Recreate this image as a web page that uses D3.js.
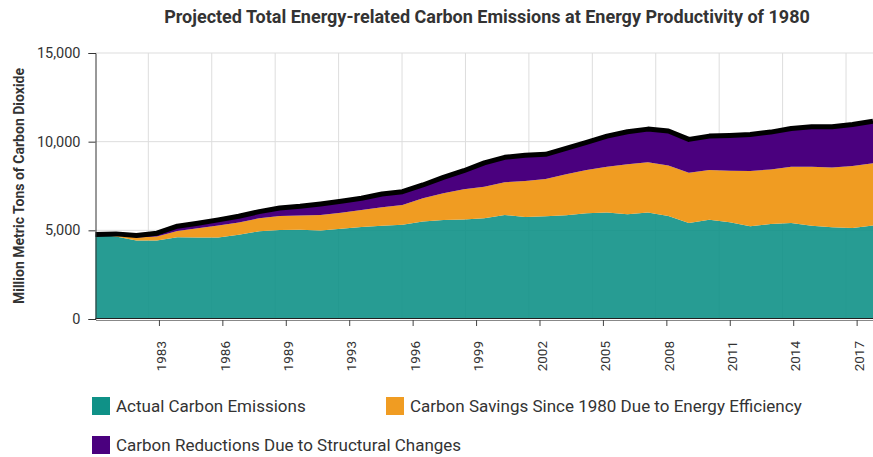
<!DOCTYPE html>
<html>
<head>
<meta charset="utf-8">
<script src="https://cdn.jsdelivr.net/npm/d3@7"></script>
<style>
body { margin: 0; background: #fff; }
text { font-family: Roboto, "Noto Sans", sans-serif; fill: #333; }
</style>
</head>
<body>
<div class="content"></div>
<script>
var size = {width: 873, height: 457};
var padding = {left: 95.5, right: 0, top: 53, bottom: 138};

// Data (million metric tons CO2)
var years = [1980, 1981, 1982, 1983, 1984, 1985, 1986, 1987, 1988, 1989,
             1990, 1991, 1992, 1993, 1994, 1995, 1996, 1997, 1998, 1999,
             2000, 2001, 2002, 2003, 2004, 2005, 2006, 2007, 2008, 2009,
             2010, 2011, 2012, 2013, 2014, 2015, 2016, 2017, 2018];
var actual = [4771, 4650, 4428, 4426, 4607, 4598, 4596, 4753, 4948, 5014,
              5039, 4996, 5088, 5185, 5259, 5314, 5502, 5579, 5617, 5682,
              5861, 5756, 5800, 5850, 5969, 5999, 5913, 6003, 5815, 5418,
              5594, 5456, 5235, 5361, 5414, 5262, 5170, 5131, 5268];
var savings = [0, 100, 170, 222, 362, 522, 671, 683, 735, 799,
               801, 873, 910, 965, 1043, 1117, 1304, 1511, 1698, 1780,
               1848, 2026, 2095, 2309, 2431, 2588, 2809, 2831, 2845, 2831,
               2806, 2906, 3108, 3076, 3173, 3325, 3380, 3494, 3510];
var structural = [0, 50, 110, 189, 263, 280, 321, 358, 372, 450,
                  520, 619, 640, 656, 748, 750, 751, 900, 1047, 1338,
                  1407, 1446, 1390, 1463, 1560, 1727, 1835, 1874, 1940, 1880,
                  1914, 1991, 2067, 2103, 2160, 2251, 2288, 2345, 2380];

var seriesKeys = ['actual', 'savings', 'structural'];
var seriesNames = ['Actual Carbon Emissions',
                   'Carbon Savings Since 1980 Due to Energy Efficiency',
                   'Carbon Reductions Due to Structural Changes'];
var colors = ['#0f9187', '#f09c22', '#4a007e'];

var tickYears = [1983.1, 1986.2, 1989.3, 1992.4, 1995.5, 1998.6, 2001.7, 2004.8, 2007.9, 2011.0, 2014.1, 2017.2];
var tickLabels = ['1983', '1986', '1989', '1993', '1996', '1999', '2002', '2005', '2008', '2011', '2014', '2017'];
var yTicks = [0, 5000, 10000, 15000];

var table = years.map(function(y, i) {
    return {year: y, actual: actual[i], savings: savings[i], structural: structural[i]};
});

var chart = d3.select('.content')
    .append('svg:svg')
    .attr('width', size.width)
    .attr('height', size.height);

var xScale = d3.scaleLinear()
    .domain([1980, 2018])
    .range([padding.left, size.width - padding.right]);
var yScale = d3.scaleLinear()
    .domain([0, 15000])
    .range([size.height - padding.bottom, padding.top]);

// Title and y label
chart.append('text')
    .attr('x', 487).attr('y', 23)
    .style('text-anchor', 'middle')
    .style('font-size', '18px').style('font-weight', 'bold')
    .text('Projected Total Energy-related Carbon Emissions at Energy Productivity of 1980');
chart.append('text')
    .attr('transform', 'translate(24,' + ((padding.top + yScale(0)) / 2) + ') rotate(-90)')
    .style('text-anchor', 'middle')
    .style('font-size', '14px').style('font-weight', 'bold')
    .text('Million Metric Tons of Carbon Dioxide');

// Gridlines (vertical ones sit a bit left of the ticks in the original)
var grid = chart.append('g').attr('class', 'grid');
grid.selectAll('line.h').data(yTicks.slice(1)).enter().append('line')
    .attr('x1', padding.left).attr('x2', size.width)
    .attr('y1', function(d) { return yScale(d); })
    .attr('y2', function(d) { return yScale(d); })
    .attr('stroke', '#ddd');
grid.selectAll('line.v').data(tickYears).enter().append('line')
    .attr('x1', function(d) { return xScale(d) - 10.6; })
    .attr('x2', function(d) { return xScale(d) - 10.6; })
    .attr('y1', yScale(15000)).attr('y2', yScale(0))
    .attr('stroke', '#ddd');

// Stacked areas
var stack = d3.stack().keys(seriesKeys);
var layers = stack(table);
var area = d3.area()
    .x(function(d) { return xScale(d.data.year); })
    .y0(function(d) { return yScale(d[0]); })
    .y1(function(d) { return yScale(d[1]); });
chart.append('g').selectAll('path').data(layers).enter().append('path')
    .attr('d', area)
    .attr('fill', function(d, i) { return colors[i]; })
    .attr('fill-opacity', function(d, i) { return i == 0 ? 0.9 : 1; });

// Thick black line on top of the stack
var topLine = d3.line()
    .x(function(d) { return xScale(d.data.year); })
    .y(function(d) { return yScale(d[1]); });
chart.append('path')
    .datum(layers[layers.length - 1])
    .attr('d', topLine)
    .attr('fill', 'none')
    .attr('stroke', '#000')
    .attr('stroke-width', 5)
    .attr('stroke-linejoin', 'round');

// Baseline
chart.append('line')
    .attr('x1', padding.left).attr('x2', size.width)
    .attr('y1', yScale(0) - 0.5).attr('y2', yScale(0) - 0.5)
    .attr('stroke', '#222');

// Axes
var xAxis = d3.axisBottom(xScale)
    .tickValues(tickYears)
    .tickFormat(function(d, i) { return tickLabels[i]; })
    .tickSize(6).tickSizeOuter(0);
var xAxisObj = chart.append('g')
    .attr('transform', 'translate(0,' + (yScale(0) + 1) + ')')
    .call(xAxis);
xAxisObj.select('.domain').attr('stroke', '#888');
xAxisObj.selectAll('.tick line').attr('stroke', '#444');
xAxisObj.selectAll('text')
    .attr('transform', 'rotate(-90)')
    .attr('x', -21).attr('y', 0).attr('dy', '0.5em')
    .style('text-anchor', 'end')
    .style('font-size', '13.5px')
    .attr('fill', '#333');

var yAxis = d3.axisLeft(yScale)
    .tickValues(yTicks)
    .tickFormat(d3.format(','))
    .tickSize(7).tickPadding(8);
var yAxisObj = chart.append('g')
    .attr('transform', 'translate(' + padding.left + ',0)')
    .call(yAxis);
yAxisObj.select('.domain').attr('stroke', '#333');
yAxisObj.selectAll('.tick line').attr('stroke', '#333');
yAxisObj.selectAll('text').style('font-size', '14.5px').attr('fill', '#333');

// Legend
var legendPos = [[92, 397], [386, 397], [92, 436]];
var legend = chart.append('g').selectAll('g').data(seriesNames).enter().append('g')
    .attr('transform', function(d, i) { return 'translate(' + legendPos[i][0] + ',' + legendPos[i][1] + ')'; });
legend.append('rect')
    .attr('width', 18).attr('height', 18)
    .attr('fill', function(d, i) { return colors[i]; });
legend.append('text')
    .attr('x', 24).attr('y', 9).attr('dy', '0.35em')
    .style('font-size', '17px')
    .text(function(d) { return d; });
</script>
</body>
</html>
